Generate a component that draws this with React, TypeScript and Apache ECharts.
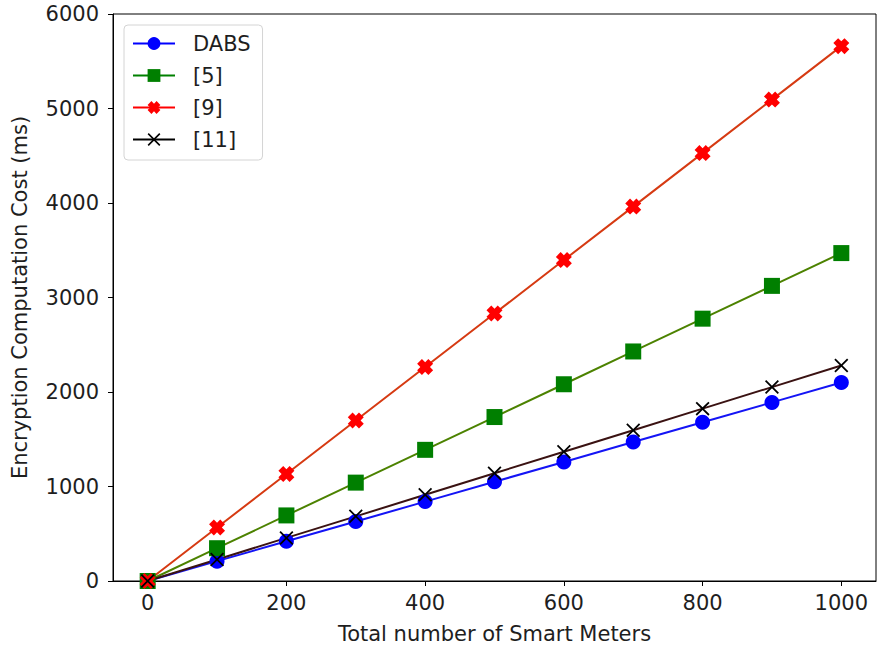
import React, { useEffect, useRef } from "react";
import * as echarts from "echarts";

const meters = [0, 100, 200, 300, 400, 500, 600, 700, 800, 900, 1000];
const dabs = [0, 210, 420, 630, 840, 1050, 1260, 1470, 1680, 1890, 2100];
const ref5 = [0, 347, 694, 1041, 1388, 1735, 2082, 2429, 2776, 3123, 3470];
const ref9 = [0, 566, 1132, 1698, 2264, 2830, 3396, 3962, 4528, 5094, 5660];
const ref11 = [0, 228, 456, 684, 912, 1140, 1368, 1596, 1824, 2052, 2280];
const xTicks = [0, 200, 400, 600, 800, 1000];
const seriesNames = ["DABS", "[5]", "[9]", "[11]"];

const FONT = "DejaVu Sans";
const TEXT = "#1e1e1e";
const FS = 21;

const fatX =
  "path://M3,0 L5,2 L7,0 L10,3 L8,5 L10,7 L7,10 L5,8 L3,10 L0,7 L2,5 L0,3 Z";
const thinX =
  "path://M0,0.9 L0.9,0 L5,4.1 L9.1,0 L10,0.9 L5.9,5 L10,9.1 L9.1,10 L5,5.9 L0.9,10 L0,9.1 L4.1,5 Z";

export default function App() {
  const ref = useRef<HTMLDivElement>(null);
  useEffect(() => {
    document.body.style.margin = "0";
    const chart = echarts.init(ref.current!, null, { renderer: "svg" });
    const pair = (ys: number[]) => meters.map((m, i) => [m, ys[i]]);
    const specs = [
      { name: seriesNames[0], data: dabs, symbol: "circle", size: 15, marker: "#0000ff", line: "#1414f5", legendLine: "#0000ff" },
      { name: seriesNames[1], data: ref5, symbol: "rect", size: 16, marker: "#007f00", line: "#4c8200", legendLine: "#008000" },
      { name: seriesNames[2], data: ref9, symbol: fatX, size: 16, marker: "#ff0000", line: "#d63a12", legendLine: "#ff0000" },
      { name: seriesNames[3], data: ref11, symbol: thinX, size: 14, marker: "#000000", line: "#3a1212", legendLine: "#000000" },
    ];
    const plain = (v: number) => String(v);
    chart.setOption({
      animation: false,
      backgroundColor: "#ffffff",
      textStyle: { fontFamily: FONT },
      grid: {
        left: 113,
        right: 2,
        top: 14,
        bottom: 71,
        show: true,
        borderColor: "#000",
        borderWidth: 1,
        backgroundColor: "transparent",
      },
      legend: {
        left: 124,
        top: 25,
        orient: "vertical",
        itemWidth: 42,
        itemHeight: 16,
        itemGap: 11,
        padding: [8, 12, 10, 8],
        backgroundColor: "rgba(255,255,255,0.8)",
        borderColor: "#d4d4d4",
        borderWidth: 1,
        borderRadius: 4,
        selectedMode: false,
        textStyle: {
          fontFamily: FONT,
          fontSize: FS,
          lineHeight: 20,
          color: TEXT,
          padding: [0, 0, 0, 13],
        },
        data: specs.map((s) => ({
          name: s.name,
          lineStyle: { color: s.legendLine, width: 2 },
          itemStyle: { color: s.marker },
        })),
      },
      xAxis: {
        type: "value",
        min: -50,
        max: 1050,
        name: "Total number of Smart Meters",
        nameLocation: "middle",
        nameGap: 42,
        nameTextStyle: { fontFamily: FONT, fontSize: FS, color: TEXT },
        axisLine: { show: true, onZero: false, lineStyle: { color: "#000", width: 1 } },
        axisTick: { show: true, inside: false, length: 5, customValues: xTicks, lineStyle: { color: "#000" } },
        axisLabel: { customValues: xTicks, formatter: plain, fontFamily: FONT, fontSize: FS, color: TEXT, margin: 11 },
        splitLine: { show: false },
      },
      yAxis: {
        type: "value",
        min: 0,
        max: 6000,
        interval: 1000,
        name: "Encryption Computation Cost (ms)",
        nameLocation: "middle",
        nameGap: 83,
        nameTextStyle: { fontFamily: FONT, fontSize: FS, color: TEXT },
        axisLine: { show: true, onZero: false, lineStyle: { color: "#000", width: 1 } },
        axisTick: { show: true, inside: false, length: 5, lineStyle: { color: "#000" } },
        axisLabel: { formatter: plain, fontFamily: FONT, fontSize: FS, color: TEXT, margin: 14 },
        splitLine: { show: false },
      },
      series: specs.map((s) => ({
        name: s.name,
        type: "line",
        data: pair(s.data),
        symbol: s.symbol,
        symbolSize: s.size,
        showAllSymbol: true,
        itemStyle: { color: s.marker, borderWidth: 0 },
        lineStyle: { color: s.line, width: 2 },
        emphasis: { disabled: true },
      })),
    });
    return () => chart.dispose();
  }, []);
  return <div ref={ref} style={{ width: 878, height: 652 }} />;
}
